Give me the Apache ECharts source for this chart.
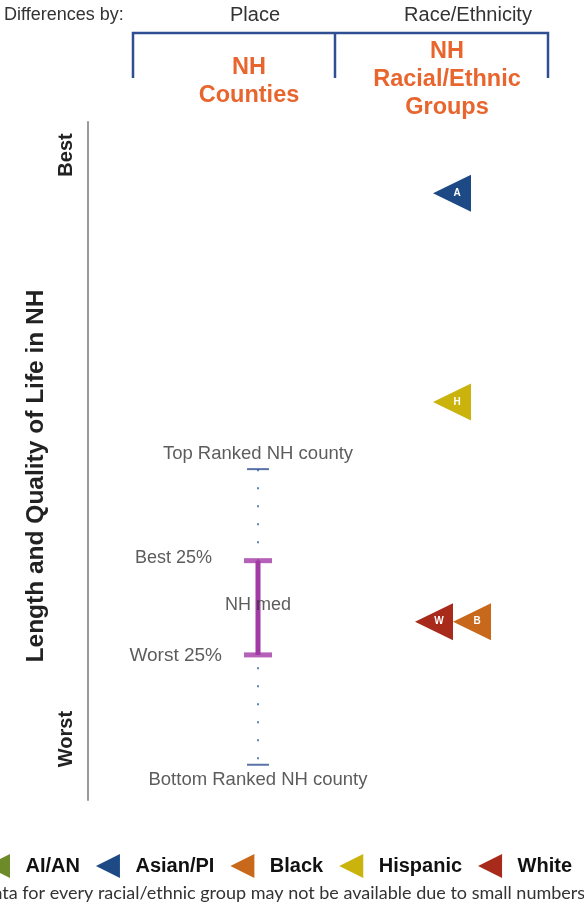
<!DOCTYPE html>
<html><head><meta charset="utf-8">
<script src="https://cdn.jsdelivr.net/npm/echarts@6/dist/echarts.min.js"></script>
<style>html,body{margin:0;padding:0;background:#fff}#c{width:584px;height:909px}</style>
</head><body><div id="c"></div>
<script>
// ---- data ----
const columns = ['NH Counties', 'NH Racial/Ethnic Groups'];
const groups = ['AI/AN', 'Asian/PI', 'Black', 'Hispanic', 'White'];
const groupLetters = ['I', 'A', 'B', 'H', 'W'];
const groupValues = [null, 89.5, 26.3, 58.7, 26.3];
const countyLabels = ['Top Ranked NH county', 'Best 25%', 'NH med', 'Worst 25%', 'Bottom Ranked NH county'];
const countyValues = [48.8, 35.3, 28.8, 21.4, 5.2];

// ---- styles ----
const groupColors = ['#6e8b2a', '#1d4a85', '#c8681a', '#c9b30c', '#a82a1a'];
const groupOffsets = [[0,0],[0,0],[20,0],[0,0],[-18,0]];
const tri = 'path://M0,50 L100,0 L100,100 Z';
const FONT = 'Liberation Sans, Arial, sans-serif';
const purple = '#a23aa6';
const navy = '#2f4f92';
const orange = '#e8652e';

const chart = echarts.init(document.getElementById('c'));

const raceSeries = groups.map((g, i) => ({
  name: g,
  type: 'scatter',
  symbol: tri,
  symbolSize: [38, 37],
  symbolOffset: groupOffsets[i],
  itemStyle: { color: groupColors[i], opacity: 1 },
  label: {
    show: true, position: 'inside', offset: [5, 0],
    formatter: groupLetters[i], color: '#fff', fontSize: 10, fontWeight: 'bold', fontFamily: FONT
  },
  z: i === 4 ? 6 : 5,
  data: groupValues[i] == null ? [] : [[columns[1], groupValues[i]]]
}));

const lblBase = { color: '#333', fontSize: 18, fontFamily: FONT };

const countySeries = [
  {
    type: 'line', silent: true, symbol: 'none',
    lineStyle: { color: '#5a86b0', width: 2, type: [2, 16] },
    data: [[columns[0], countyValues[0]], [columns[0], countyValues[4]]], z: 1
  },
  {
    type: 'line', silent: true, symbol: 'none',
    lineStyle: { color: purple, width: 5 },
    data: [[columns[0], countyValues[1]], [columns[0], countyValues[3]]], z: 2
  },
  {
    type: 'scatter', silent: true, symbol: 'rect', symbolSize: [22, 2],
    itemStyle: { color: navy },
    data: [
      { value: [columns[0], countyValues[0]], label: { show: true, position: 'top', distance: 5, formatter: countyLabels[0], ...lblBase, fontSize: 18.5 } },
      { value: [columns[0], countyValues[4]], label: { show: true, position: 'bottom', distance: 5, formatter: countyLabels[4], ...lblBase, fontSize: 18.5 } }
    ], z: 3
  },
  {
    type: 'scatter', silent: true, symbol: 'rect', symbolSize: [28, 5],
    itemStyle: { color: purple },
    data: [
      { value: [columns[0], countyValues[1]], label: { show: true, position: 'left', distance: 32, offset: [0, -3], formatter: countyLabels[1], ...lblBase } },
      { value: [columns[0], countyValues[3]], label: { show: true, position: 'left', distance: 22, offset: [0, 1], formatter: countyLabels[3], ...lblBase, fontSize: 19 } }
    ], z: 3
  },
  {
    type: 'scatter', silent: true, symbolSize: 1, itemStyle: { color: 'rgba(0,0,0,0)' },
    data: [
      { value: [columns[0], countyValues[2]], label: { show: true, position: 'inside', formatter: countyLabels[2], ...lblBase } }
    ], z: 4
  }
];

const hdr = (x, y, t, extra) => ({ type: 'text', x, y, style: Object.assign({ text: t, fill: '#333', font: '20px ' + FONT, textAlign: 'center', textVerticalAlign: 'middle' }, extra || {}) });
const org = (x, y, t) => ({ type: 'text', x, y, style: { text: t, fill: orange, font: 'bold 23.5px ' + FONT, textAlign: 'center', textVerticalAlign: 'middle' } });

chart.setOption({
  animation: false,
  grid: { left: 161, right: 35, top: 122, bottom: 109 },
  xAxis: {
    type: 'category', data: columns, show: false
  },
  yAxis: {
    type: 'value', min: 0, max: 100, offset: 73,
    axisLine: { show: true, lineStyle: { color: '#9a9a9a', width: 2 } },
    axisTick: { show: false }, axisLabel: { show: false }, splitLine: { show: false }
  },
  legend: {
    left: -19, top: 849, itemWidth: 25, itemHeight: 24, itemGap: 16,
    icon: tri,
    data: groups,
    textStyle: { fontSize: 20, fontWeight: 'bold', color: '#111', fontFamily: FONT, padding: [0, 0, 0, 10] }
  },
  graphic: [
    hdr(4, 15, 'Differences by:', { textAlign: 'left', font: '18px ' + FONT }),
    hdr(255, 15, 'Place'),
    hdr(468, 15, 'Race/Ethnicity'),
    { type: 'polyline', shape: { points: [[133, 78], [133, 33], [548, 33], [548, 78]] }, style: { stroke: navy, lineWidth: 2.5, fill: null } },
    { type: 'line', shape: { x1: 335, y1: 33, x2: 335, y2: 78 }, style: { stroke: navy, lineWidth: 2.5 } },
    org(249, 68, 'NH'), org(249, 96, 'Counties'),
    org(447, 52, 'NH'), org(447, 80, 'Racial/Ethnic'), org(447, 108, 'Groups'),
    { type: 'text', x: 66, y: 155, rotation: Math.PI / 2, style: { text: 'Best', fill: '#222', font: 'bold 20px ' + FONT, textAlign: 'center', textVerticalAlign: 'middle' } },
    { type: 'text', x: 66, y: 739, rotation: Math.PI / 2, style: { text: 'Worst', fill: '#222', font: 'bold 20px ' + FONT, textAlign: 'center', textVerticalAlign: 'middle' } },
    { type: 'text', x: 36, y: 476, rotation: Math.PI / 2, style: { text: 'Length and Quality of Life in NH', fill: '#222', font: 'bold 24.5px ' + FONT, textAlign: 'center', textVerticalAlign: 'middle' } },
    { type: 'text', x: -20, y: 893, style: { text: 'Data for every racial/ethnic group may not be available due to small numbers', fill: '#333', font: '18px Lato, sans-serif', textAlign: 'left', textVerticalAlign: 'middle' } }
  ],
  series: [...countySeries, ...raceSeries]
});
</script></body></html>
